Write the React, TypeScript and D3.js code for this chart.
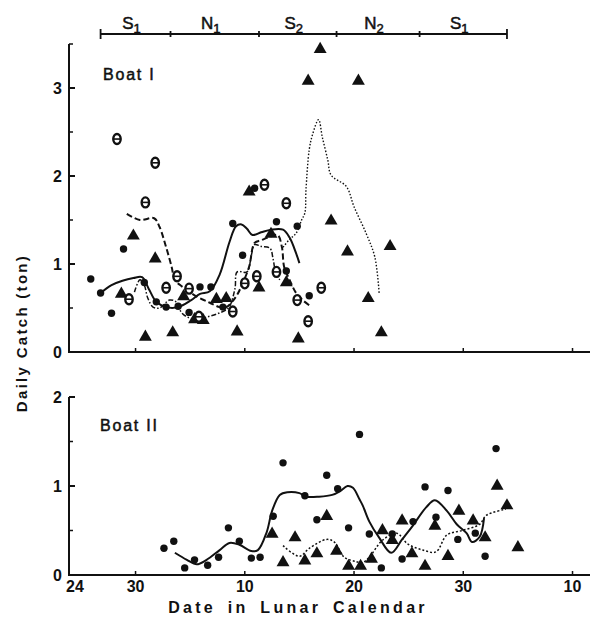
import React from "react";
import * as d3 from "d3";

// ---------- data (x = day index from lunar date 24, y = ton) ----------
const tickDays = [0, 6, 16, 26, 36, 46];
const tickLabels = ["24", "30", "10", "20", "30", "10"];

const periodBounds = [2.8, 9.2, 17.3, 24.4, 32.0, 40.0];
const periodNames = ["S", "N", "S", "N", "S"];
const periodSubs = ["1", "1", "2", "2", "1"];

// Boat I
const b1Circles: [number, number][] = [
  [1.9, 0.83], [2.8, 0.67], [3.8, 0.44], [4.9, 1.17], [6.8, 0.79], [7.9, 0.57],
  [8.8, 0.51], [9.9, 0.52], [10.9, 0.45], [11.9, 0.74], [12.9, 0.74], [14.0, 0.51],
  [14.9, 1.46], [15.8, 1.1], [16.9, 1.86], [18.9, 1.48], [19.8, 0.92], [20.8, 1.43],
  [21.9, 0.64],
];
const b1Triangles: [number, number][] = [
  [4.7, 0.66], [5.8, 1.32], [6.9, 0.17], [7.8, 1.06], [9.4, 0.22], [10.4, 0.63],
  [11.4, 0.37], [12.2, 0.36], [13.4, 0.6], [14.3, 0.61], [15.3, 0.23], [16.4, 1.82],
  [17.3, 0.73], [18.4, 1.34], [19.8, 0.79], [20.9, 0.15], [21.8, 3.08], [22.9, 3.44],
  [23.9, 1.49], [25.4, 1.14], [26.4, 3.08], [27.3, 0.61], [28.5, 0.22], [29.3, 1.2],
];
const b1Thetas: [number, number][] = [
  [4.3, 2.42], [7.8, 2.15], [6.9, 1.7], [5.4, 0.6], [8.8, 0.73], [9.8, 0.86],
  [10.9, 0.72], [11.8, 0.4], [14.9, 0.46], [16.0, 0.78], [17.1, 0.86], [17.8, 1.9],
  [18.9, 0.91], [19.8, 1.69], [20.8, 0.59], [21.8, 0.35], [23.0, 0.73],
];
const b1Solid: [number, number][] = [
  [2.8, 0.67], [3.8, 0.76], [4.8, 0.81], [5.8, 0.84], [6.6, 0.85], [7.2, 0.72],
  [7.9, 0.57], [8.8, 0.51], [9.9, 0.51], [11.1, 0.59], [11.9, 0.66], [12.8, 0.69],
  [13.7, 0.88], [14.6, 1.25], [15.2, 1.43], [15.7, 1.45], [16.2, 1.4], [16.7, 1.33],
  [17.5, 1.36], [18.4, 1.39], [19.5, 1.39], [20.1, 1.3], [20.7, 1.12], [21.0, 1.01],
];
const b1Dashed: [number, number][] = [
  [5.2, 1.57], [6.4, 1.5], [7.7, 1.52], [8.2, 1.42], [8.8, 1.19], [9.3, 0.97],
  [9.6, 0.82], [10.3, 0.74], [11.6, 0.63], [12.8, 0.56], [13.7, 0.51], [14.3, 0.51],
  [15.2, 0.63], [15.8, 0.78], [16.4, 0.97], [16.9, 1.24], [17.5, 1.27], [18.3, 1.31],
  [19.0, 1.33], [19.4, 1.19], [19.6, 0.97], [20.1, 0.82], [20.7, 0.67], [21.3, 0.59],
  [21.9, 0.53],
];
const b1DashDot: [number, number][] = [
  [5.9, 0.68], [6.4, 0.82], [6.8, 0.76], [7.1, 0.62], [7.6, 0.51], [8.2, 0.5],
  [9.1, 0.59], [9.7, 0.57], [10.2, 0.45], [10.7, 0.4], [11.6, 0.37], [12.6, 0.4],
  [13.6, 0.44], [14.5, 0.5], [15.1, 0.72], [15.3, 0.91], [16.2, 0.91], [16.6, 1.1],
  [16.9, 1.22], [17.5, 1.2], [18.3, 1.18], [18.6, 1.05], [18.8, 0.92], [19.2, 0.82],
];
const b1Dotted: [number, number][] = [
  [19.5, 1.19], [20.1, 1.28], [20.7, 1.35], [21.2, 1.5], [21.5, 1.58], [21.6, 1.84],
  [21.9, 2.3], [22.2, 2.47], [22.75, 2.64], [23.1, 2.44], [23.6, 2.18], [23.9, 2.01],
  [25.3, 1.88], [26.0, 1.65], [27.1, 1.35], [27.9, 1.08], [28.3, 0.67],
];

// Boat II
const b2Circles: [number, number][] = [
  [8.6, 0.3], [9.5, 0.38], [10.5, 0.08], [11.4, 0.17], [12.6, 0.11], [13.6, 0.2],
  [14.5, 0.53], [15.5, 0.38], [16.6, 0.19], [17.4, 0.2], [18.6, 0.66], [19.5, 1.26],
  [21.5, 0.89], [22.6, 0.62], [23.5, 1.12], [24.5, 0.97], [25.5, 0.53], [26.5, 1.58],
  [27.4, 0.46], [28.5, 0.08], [29.5, 0.46], [30.4, 0.18], [31.4, 0.6], [32.5, 0.99],
  [33.5, 0.65], [34.6, 0.95], [35.5, 0.4], [37.1, 0.47], [38.0, 0.21], [39.0, 1.42],
];
const b2Triangles: [number, number][] = [
  [18.5, 0.46], [19.5, 0.14], [20.6, 0.42], [21.5, 0.16], [22.6, 0.24], [23.5, 0.66],
  [24.4, 0.27], [25.5, 0.1], [26.6, 0.1], [27.6, 0.18], [28.6, 0.5], [29.5, 0.39],
  [30.4, 0.61], [31.3, 0.24], [32.5, 0.1], [33.4, 0.55], [34.6, 0.21], [35.6, 0.72],
  [36.9, 0.61], [38.0, 0.42], [39.1, 1.0], [40.0, 0.78], [41.0, 0.31],
];
const b2Solid: [number, number][] = [
  [9.6, 0.25], [10.7, 0.17], [11.6, 0.12], [12.5, 0.17], [13.7, 0.28], [14.6, 0.36],
  [15.5, 0.34], [16.6, 0.27], [17.2, 0.28], [18.0, 0.48], [18.5, 0.72], [19.2, 0.9],
  [19.9, 0.93], [21.0, 0.92], [21.6, 0.88], [22.8, 0.88], [24.0, 0.9], [24.7, 0.94],
  [25.4, 1.0], [25.9, 0.98], [26.5, 0.85], [26.8, 0.78], [27.4, 0.6], [28.3, 0.42],
  [29.4, 0.25], [30.4, 0.4], [31.3, 0.54], [32.6, 0.76], [33.4, 0.84], [34.5, 0.72],
  [35.4, 0.57], [36.3, 0.47], [36.8, 0.37], [37.5, 0.43], [37.9, 0.64],
];
const b2Dotted: [number, number][] = [
  [19.5, 0.33], [21.0, 0.21], [21.9, 0.3], [23.5, 0.4], [24.2, 0.37], [25.1, 0.2],
  [26.2, 0.15], [26.8, 0.14], [27.4, 0.2], [28.6, 0.39], [29.9, 0.47], [30.9, 0.35],
  [32.3, 0.28], [33.5, 0.26], [34.5, 0.45], [35.9, 0.5], [37.5, 0.57], [38.1, 0.67],
  [39.9, 0.74],
];

const yTicksTop = [0, 1, 2, 3];
const yMinorTop = [0.5, 1.5, 2.5, 3.5];
const yTicksBot = [0, 1, 2];
const yMinorBot = [0.5, 1.5];

// ---------- scales ----------
const x = d3.scaleLinear().domain([0, 47.6]).range([70, 590]);
const yTop = d3.scaleLinear().domain([0, 3.5]).range([352, 44]);
const yBot = d3.scaleLinear().domain([0, 2]).range([575, 397]);

const INK = "#111";
const FONT = "Liberation Sans, Arial, Helvetica, sans-serif";

function linePath(data: [number, number][], y: d3.ScaleLinear<number, number>) {
  return (
    d3
      .line<[number, number]>()
      .x((d) => x(d[0]))
      .y((d) => y(d[1]))
      .curve(d3.curveCatmullRom.alpha(0.5))(data) || ""
  );
}

function Circles({ data, y }: { data: [number, number][]; y: any }) {
  return (
    <g>
      {data.map((d, i) => (
        <circle key={i} cx={x(d[0])} cy={y(d[1])} r={3.7} fill={INK} />
      ))}
    </g>
  );
}

function Triangles({ data, y }: { data: [number, number][]; y: any }) {
  const sym = d3.symbol().type(d3.symbolTriangle).size(72)() || "";
  return (
    <g>
      {data.map((d, i) => (
        <path key={i} d={sym} transform={`translate(${x(d[0])},${y(d[1])})`} fill={INK} />
      ))}
    </g>
  );
}

function Thetas({ data, y }: { data: [number, number][]; y: any }) {
  return (
    <g>
      {data.map((d, i) => (
        <g key={i} transform={`translate(${x(d[0])},${y(d[1])})`}>
          <ellipse cx={0} cy={0} rx={3.7} ry={5} fill="#fff" stroke={INK} strokeWidth={2.4} />
          <line x1={-3} x2={3} y1={0} y2={0} stroke={INK} strokeWidth={1.6} />
        </g>
      ))}
    </g>
  );
}

function YAxis({
  y,
  ticks,
  minor,
  top,
}: {
  y: any;
  ticks: number[];
  minor: number[];
  top: number;
}) {
  const x0 = x(0) - 1;
  return (
    <g>
      <line x1={x0} x2={x0} y1={y(0)} y2={y(top)} stroke={INK} strokeWidth={2} />
      {ticks.map((t) => (
        <g key={"t" + t}>
          {t > 0 && <line x1={x0} x2={x0 + 6} y1={y(t)} y2={y(t)} stroke={INK} strokeWidth={2} />}
          <text
            x={x0 - 7}
            y={y(t)}
            dy="0.36em"
            textAnchor="end"
            fontFamily={FONT}
            fontWeight="bold"
            fontSize={16}
            fill={INK}
          >
            {t}
          </text>
        </g>
      ))}
      {minor.map((t) => (
        <line key={"m" + t} x1={x0} x2={x0 + 4} y1={y(t)} y2={y(t)} stroke={INK} strokeWidth={1.5} />
      ))}
    </g>
  );
}

function XAxis({ y, labels }: { y: any; labels: boolean }) {
  const yy = y(0);
  return (
    <g>
      <line x1={x(0) - 2} x2={x(47.6)} y1={yy} y2={yy} stroke={INK} strokeWidth={2} />
      {tickDays.map((t, i) => (
        <g key={i}>
          {t > 0 && <line x1={x(t)} x2={x(t)} y1={yy} y2={yy - 4} stroke={INK} strokeWidth={1.5} />}
          {labels && (
            <text
              x={x(t) + (i === 0 ? 5 : 0)}
              y={yy + 17}
              textAnchor="middle"
              fontFamily={FONT}
              fontWeight="bold"
              fontSize={16}
              fill={INK}
            >
              {tickLabels[i]}
            </text>
          )}
        </g>
      ))}
    </g>
  );
}

export default function App() {
  const barY = 34;
  return (
    <svg
      width={594}
      height={636}
      viewBox="0 0 594 636"
      style={{ position: "absolute", left: 0, top: 0, background: "#fff" }}
    >
      <rect x={0} y={0} width={594} height={636} fill="#fff" />

      {/* lunar period bar */}
      <g>
        <line
          x1={x(periodBounds[0])}
          x2={x(periodBounds[periodBounds.length - 1])}
          y1={barY}
          y2={barY}
          stroke={INK}
          strokeWidth={1.8}
        />
        {periodBounds.map((b, i) => {
          const end = i === 0 || i === periodBounds.length - 1;
          return (
            <line
              key={i}
              x1={x(b)}
              x2={x(b)}
              y1={barY - (end ? 5 : 3)}
              y2={barY + (end ? 5 : 3)}
              stroke={INK}
              strokeWidth={1.8}
            />
          );
        })}
        {periodNames.map((n, i) => (
          <text
            key={i}
            x={(x(periodBounds[i]) + x(periodBounds[i + 1])) / 2 - 4}
            y={barY - 5}
            textAnchor="middle"
            fontFamily={FONT}
            fontSize={17}
            stroke={INK}
            strokeWidth={0.5}
            fill={INK}
          >
            {n}
            <tspan fontSize={13} dy={4}>
              {periodSubs[i]}
            </tspan>
          </text>
        ))}
      </g>

      {/* Boat I */}
      <YAxis y={yTop} ticks={yTicksTop} minor={yMinorTop} top={3.5} />
      <XAxis y={yTop} labels={false} />
      <text
        x={103}
        y={80}
        fontFamily={FONT}
        fontSize={16}
        letterSpacing={1.8}
        stroke={INK}
        strokeWidth={0.5}
        fill={INK}
      >
        Boat I
      </text>
      <g fill="none" stroke={INK}>
        <path d={linePath(b1Solid, yTop)} strokeWidth={2} />
        <path d={linePath(b1Dashed, yTop)} strokeWidth={2} strokeDasharray="6,3" />
        <path d={linePath(b1DashDot, yTop)} strokeWidth={1.5} strokeDasharray="5,2,1.5,2" />
        <path d={linePath(b1Dotted, yTop)} strokeWidth={1.4} strokeDasharray="1.5,1.8" />
      </g>
      <Circles data={b1Circles} y={yTop} />
      <Triangles data={b1Triangles} y={yTop} />
      <Thetas data={b1Thetas} y={yTop} />

      {/* Boat II */}
      <YAxis y={yBot} ticks={yTicksBot} minor={yMinorBot} top={2} />
      <XAxis y={yBot} labels={true} />
      <text
        x={100}
        y={431}
        fontFamily={FONT}
        fontSize={16}
        letterSpacing={1.8}
        stroke={INK}
        strokeWidth={0.5}
        fill={INK}
      >
        Boat II
      </text>
      <g fill="none" stroke={INK}>
        <path d={linePath(b2Solid, yBot)} strokeWidth={2} />
        <path d={linePath(b2Dotted, yBot)} strokeWidth={1.5} strokeDasharray="2,2" />
      </g>
      <Circles data={b2Circles} y={yBot} />
      <Triangles data={b2Triangles} y={yBot} />

      {/* axis titles */}
      <text
        transform="translate(27,333) rotate(-90)"
        textAnchor="middle"
        fontFamily={FONT}
        fontWeight="bold"
        fontSize={15}
        letterSpacing={2.3}
        fill={INK}
      >
        Daily Catch (ton)
      </text>
      <text
        x={298}
        y={613}
        textAnchor="middle"
        fontFamily={FONT}
        fontWeight="bold"
        fontSize={16}
        letterSpacing={3.3}
        wordSpacing={4}
        fill={INK}
      >
        Date in Lunar Calendar
      </text>
    </svg>
  );
}
